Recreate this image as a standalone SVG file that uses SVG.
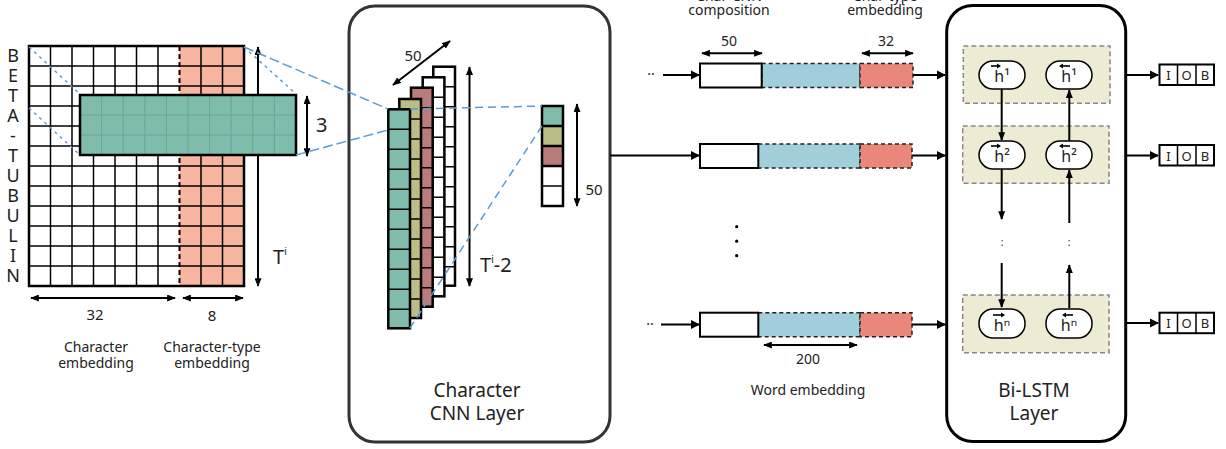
<svg xmlns="http://www.w3.org/2000/svg" xmlns:xlink="http://www.w3.org/1999/xlink" width="1226" height="449" viewBox="0 0 1226 449">
<style>
text{font-family:"Noto Sans","Open Sans","Liberation Sans",sans-serif;fill:#222}
.t14{font-size:14px}
.t15{font-size:15px}
.t18{font-size:18px}
.t20{font-size:20px}
.big{font-size:19px;text-anchor:middle}
.mid{text-anchor:middle}
.thin{stroke:#000;stroke-width:1.5;fill:none}
.out{stroke:#000;stroke-width:2.5}
.arr{stroke:#000;stroke-width:2;fill:none}
.blue{stroke:#5B9BD5;stroke-width:1.5;fill:none}
.dash{stroke-dasharray:8 5}
.sdash{stroke-dasharray:3 4}
.ldash{stroke-dasharray:10 4}
.box{fill:#fff;stroke:#333;stroke-width:3}
.bbox{fill:#fff;stroke:#000;stroke-width:3}
.ybox{fill:#EEEBD4;stroke:#888;stroke-width:1.5;stroke-dasharray:5 3}
.pill{fill:#fff;stroke:#000;stroke-width:1.5}
.wseg{fill:#fff;stroke:#000;stroke-width:2}
.bseg{fill:#A0CEDB;stroke:#222;stroke-width:1.5;stroke-dasharray:4 3}
.rseg{fill:#E8877A;stroke:#222;stroke-width:1.5;stroke-dasharray:4 3}
</style>
<defs>
<marker id="ah" viewBox="0 0 10 8" refX="9" refY="4" markerWidth="9" markerHeight="7" markerUnits="userSpaceOnUse" orient="auto-start-reverse">
<path d="M0,0 L10,4 L0,8 z" fill="#000"/>
</marker>
<marker id="ahb" viewBox="0 0 10 10" refX="9" refY="5" markerWidth="9" markerHeight="11" markerUnits="userSpaceOnUse" orient="auto">
<path d="M0,0 L10,5 L0,10 z" fill="#000"/>
</marker>
<g id="cells">
<path d="M0,20H21.7M0,40H21.7M0,60H21.7M0,80H21.7M0,100H21.7M0,120H21.7M0,140H21.7M0,160H21.7M0,180H21.7M0,200H21.7" stroke="#000" stroke-width="1.5"/>
</g>
</defs>

<!-- Character embedding matrix -->
<g id="char-matrix">
<rect x="29" y="46" width="215" height="240" fill="#fff"/>
<rect x="179.5" y="46" width="64.5" height="240" fill="#F7B49E"/>
<path class="thin" d="M50.5,46V286M72,46V286M93.5,46V286M115,46V286M136.5,46V286M158,46V286M201,46V286M222.5,46V286"/>
<path class="thin" d="M29,66H244M29,86H244M29,106H244M29,126H244M29,146H244M29,166H244M29,186H244M29,206H244M29,226H244M29,246H244M29,266H244"/>
<path d="M179.5,46V286" stroke="#000" stroke-width="2" stroke-dasharray="5 3"/>
<rect x="29" y="46" width="215" height="240" fill="none" class="out"/>
</g>

<g id="word-letters" class="t18">
<text x="13" y="62" class="mid">B</text>
<text x="13" y="82" class="mid">E</text>
<text x="13" y="102" class="mid">T</text>
<text x="13" y="122" class="mid">A</text>
<text x="13" y="142" class="mid">-</text>
<text x="13" y="162" class="mid">T</text>
<text x="13" y="182" class="mid">U</text>
<text x="13" y="202" class="mid">B</text>
<text x="13" y="222" class="mid">U</text>
<text x="13" y="242" class="mid">L</text>
<text x="13" y="262" class="mid">I</text>
<text x="13" y="282" class="mid">N</text>
</g>

<g id="length-arrow">
<line x1="258" y1="47" x2="258" y2="286" class="arr" marker-start="url(#ah)" marker-end="url(#ah)"/>
<text x="273" y="264" class="t20">T<tspan font-size="10" dy="-9">i</tspan></text>
</g>

<!-- dashed projection lines on matrix -->
<g id="proj-lines">
<path class="blue sdash" d="M29,47L80,94M29,108L80,155M244,47L296,94"/>
</g>

<!-- convolution window -->
<g id="window">
<rect x="80" y="95" width="216" height="60" fill="#7FBCAB"/>
<path d="M101.6,95V155M123.2,95V155M144.8,95V155M166.4,95V155M188,95V155M209.6,95V155M231.2,95V155M252.8,95V155M274.4,95V155M80,115H296M80,135H296" stroke="#68A594" stroke-width="1"/>
<rect x="80" y="95" width="216" height="60" fill="none" class="out"/>
</g>

<g id="matrix-dims">
<line x1="307" y1="96" x2="307" y2="156" class="arr" stroke-width="2.5" marker-start="url(#ah)" marker-end="url(#ah)"/>
<text x="316" y="132" class="t20">3</text>
<line x1="31" y1="298" x2="175" y2="298" class="arr" marker-start="url(#ah)" marker-end="url(#ah)"/>
<line x1="183" y1="298" x2="243" y2="298" class="arr" marker-start="url(#ah)" marker-end="url(#ah)"/>
<text x="95" y="320" class="t15 mid">32</text>
<text x="212" y="321" class="t15 mid">8</text>
<text x="96" y="352" class="t14 mid">Character</text>
<text x="96" y="368" class="t14 mid">embedding</text>
<text x="212" y="352" class="t14 mid">Character-type</text>
<text x="212" y="368" class="t14 mid">embedding</text>
</g>

<!-- Character CNN layer -->
<g id="cnn-layer">
<rect x="349" y="6" width="261" height="436" rx="26" class="box"/>
<text x="477" y="397" class="big">Character</text>
<text x="477" y="420" class="big">CNN Layer</text>
</g>

<g id="feature-maps">
<rect x="433.3" y="66.7" width="21.7" height="219" fill="#fff" class="out"/>
<use xlink:href="#cells" x="433.3" y="66.7"/>
<rect x="422.7" y="77.3" width="21.7" height="219" fill="#fff" class="out"/>
<use xlink:href="#cells" x="422.7" y="77.3"/>
<rect x="411" y="87.7" width="21.7" height="219" fill="#B97B7B" class="out"/>
<use xlink:href="#cells" x="411" y="87.7"/>
<rect x="399.3" y="99" width="21.7" height="219" fill="#BCBC85" class="out"/>
<use xlink:href="#cells" x="399.3" y="99"/>
<rect x="388.3" y="109.3" width="21.7" height="219" fill="#7FBCAB" class="out"/>
<use xlink:href="#cells" x="388.3" y="109.3"/>
</g>

<g id="pooled-vector">
<rect x="542" y="106" width="21" height="20" fill="#7FBCAB"/>
<rect x="542" y="126" width="21" height="20" fill="#BCBC85"/>
<rect x="542" y="146" width="21" height="20" fill="#B97B7B"/>
<rect x="542" y="166" width="21" height="40" fill="#fff"/>
<path d="M542,126H563M542,146H563M542,166H563" stroke="#000" stroke-width="2.5"/>
<path d="M542,186H563" stroke="#000" stroke-width="1.5"/>
<rect x="542" y="106" width="21" height="100" fill="none" class="out"/>
</g>

<g id="cnn-dims">
<line x1="393" y1="85" x2="450" y2="41" class="arr" stroke-width="2.5" marker-start="url(#ah)" marker-end="url(#ah)"/>
<text x="413" y="61" class="t15 mid">50</text>
<line x1="469.5" y1="67" x2="469.5" y2="286" class="arr" stroke-width="2.5" marker-start="url(#ah)" marker-end="url(#ah)"/>
<text x="480" y="272" class="t20">T<tspan font-size="10" dy="-9">i</tspan><tspan dy="9">-2</tspan></text>
<line x1="577" y1="104" x2="577" y2="206" class="arr" marker-start="url(#ah)" marker-end="url(#ah)"/>
<text x="594" y="195" class="t15 mid">50</text>
</g>

<!-- word representation rows -->
<g id="top-labels" class="t14">
<text x="729" y="1" class="mid">Char-CNN</text>
<text x="729" y="15" class="mid">composition</text>
<text x="885" y="1" class="mid">Char-type</text>
<text x="885" y="15" class="mid">embedding</text>
<line x1="702" y1="53.3" x2="762" y2="53.3" class="arr" stroke-width="1.8" marker-start="url(#ah)" marker-end="url(#ah)"/>
<text x="729" y="46" class="mid">50</text>
<line x1="862" y1="53.3" x2="913" y2="53.3" class="arr" stroke-width="1.8" marker-start="url(#ah)" marker-end="url(#ah)"/>
<text x="886" y="46" class="mid">32</text>
</g>

<g id="row-1">
<text x="651" y="79" class="t14 mid">··</text>
<rect x="761.7" y="63.5" width="98.3" height="24" class="bseg"/>
<rect x="860" y="63.5" width="53" height="24" class="rseg"/>
<rect x="700" y="63.5" width="61.7" height="24" class="wseg"/>
</g>
<g id="row-2">
<rect x="758.3" y="144" width="101.7" height="24" class="bseg"/>
<rect x="860" y="144" width="52" height="24" class="rseg"/>
<rect x="700" y="144" width="58.3" height="24" class="wseg"/>
</g>
<g id="row-dots">
<circle cx="736.7" cy="226.7" r="1.6" fill="#000"/>
<circle cx="736.7" cy="241.2" r="1.6" fill="#000"/>
<circle cx="736.7" cy="255.7" r="1.6" fill="#000"/>
</g>
<g id="row-n">
<text x="650" y="328.5" class="t14 mid">··</text>
<rect x="758.3" y="312.7" width="101.7" height="24" class="bseg"/>
<rect x="860" y="312.7" width="52" height="24" class="rseg"/>
<rect x="700" y="312.7" width="58.3" height="24" class="wseg"/>
<line x1="764" y1="345" x2="857" y2="345" class="arr" stroke-width="1.8" marker-start="url(#ah)" marker-end="url(#ah)"/>
<text x="808" y="364" class="t14 mid">200</text>
<text x="808" y="395" class="t14 mid">Word embedding</text>
</g>

<!-- Bi-LSTM -->
<g id="bilstm-layer">
<rect x="946.7" y="5.5" width="179" height="436" rx="26" class="bbox"/>
<text x="1034" y="397" class="big">Bi-LSTM</text>
<text x="1034" y="420" class="big">Layer</text>
</g>

<g id="lstm-step-1">
<rect x="963.3" y="46" width="146.7" height="57.3" class="ybox"/>
<rect x="979" y="61" width="46" height="28" rx="14" class="pill"/>
<rect x="1046" y="61" width="46" height="28" rx="14" class="pill"/>
<text x="1002" y="82" font-size="16" class="mid">h¹</text>
<text x="1069" y="82" font-size="16" class="mid">h¹</text>
<path d="M991,66H1000" stroke="#000" stroke-width="1.6"/><path d="M1001,66l-4,-2.5v5z" fill="#000"/>
<path d="M1061,66H1070" stroke="#000" stroke-width="1.6"/><path d="M1059,66l4,-2.5v5z" fill="#000"/>
</g>
<g id="lstm-step-2">
<rect x="962.7" y="126" width="146.3" height="57.3" class="ybox"/>
<rect x="979" y="141" width="46" height="28" rx="14" class="pill"/>
<rect x="1046" y="141" width="46" height="28" rx="14" class="pill"/>
<text x="1002" y="162" font-size="16" class="mid">h²</text>
<text x="1069" y="162" font-size="16" class="mid">h²</text>
<path d="M991,146H1000" stroke="#000" stroke-width="1.6"/><path d="M1001,146l-4,-2.5v5z" fill="#000"/>
<path d="M1061,146H1070" stroke="#000" stroke-width="1.6"/><path d="M1059,146l4,-2.5v5z" fill="#000"/>
</g>
<g id="lstm-ellipsis">
<text x="1002" y="246" font-size="10" class="mid">:</text>
<text x="1069" y="246" font-size="10" class="mid">:</text>
</g>
<g id="lstm-step-n">
<rect x="962.7" y="295" width="146.3" height="57.7" class="ybox"/>
<rect x="979" y="309" width="46" height="29" rx="14" class="pill"/>
<rect x="1046" y="309" width="46" height="29" rx="14" class="pill"/>
<text x="1002" y="331" font-size="16" class="mid">hⁿ</text>
<text x="1069" y="331" font-size="16" class="mid">hⁿ</text>
<path d="M993,315H1004" stroke="#000" stroke-width="1.6"/><path d="M1005,315l-4,-2.5v5z" fill="#000"/>
<path d="M1064,315H1073" stroke="#000" stroke-width="1.6"/><path d="M1062,315l4,-2.5v5z" fill="#000"/>
</g>

<!-- IOB outputs -->
<g id="iob-1">
<rect x="1159.5" y="64.5" width="54.5" height="20.5" fill="#fff" stroke="#000" stroke-width="2"/>
<path d="M1177.5,64.5V85M1196,64.5V85" stroke="#000" stroke-width="1.5"/>
<text x="1168.5" y="80" font-size="13" class="mid">I</text>
<text x="1186.7" y="80" font-size="13" class="mid">O</text>
<text x="1205" y="80" font-size="13" class="mid">B</text>
</g>
<g id="iob-2">
<rect x="1159.5" y="145" width="54.5" height="20.5" fill="#fff" stroke="#000" stroke-width="2"/>
<path d="M1177.5,145V165.5M1196,145V165.5" stroke="#000" stroke-width="1.5"/>
<text x="1168.5" y="160.5" font-size="13" class="mid">I</text>
<text x="1186.7" y="160.5" font-size="13" class="mid">O</text>
<text x="1205" y="160.5" font-size="13" class="mid">B</text>
</g>
<g id="iob-n">
<rect x="1159.5" y="312.7" width="54.5" height="20.5" fill="#fff" stroke="#000" stroke-width="2"/>
<path d="M1177.5,312.7V333.2M1196,312.7V333.2" stroke="#000" stroke-width="1.5"/>
<text x="1168.5" y="328.2" font-size="13" class="mid">I</text>
<text x="1186.7" y="328.2" font-size="13" class="mid">O</text>
<text x="1205" y="328.2" font-size="13" class="mid">B</text>
</g>

<!-- connectors -->
<g id="connectors">
<path class="blue ldash" d="M244,47L388,109M296,155L388,130"/>
<path class="blue dash" d="M410,109L542,106M542,126L410,328"/>
<line x1="610" y1="155.5" x2="699" y2="155.5" class="arr" marker-end="url(#ahb)"/>
<line x1="663" y1="75" x2="699" y2="75" class="arr" marker-end="url(#ahb)"/>
<line x1="661" y1="324.5" x2="699" y2="324.5" class="arr" marker-end="url(#ahb)"/>
<line x1="913" y1="75" x2="945" y2="75" class="arr" marker-end="url(#ahb)"/>
<line x1="912" y1="155.5" x2="945" y2="155.5" class="arr" marker-end="url(#ahb)"/>
<line x1="912" y1="324.5" x2="945" y2="324.5" class="arr" marker-end="url(#ahb)"/>
<line x1="1126" y1="75" x2="1158" y2="75" class="arr" marker-end="url(#ahb)"/>
<line x1="1126" y1="155.5" x2="1158" y2="155.5" class="arr" marker-end="url(#ahb)"/>
<line x1="1126" y1="323" x2="1158" y2="323" class="arr" marker-end="url(#ahb)"/>
<line x1="1001.7" y1="89" x2="1001.7" y2="140" class="arr" marker-end="url(#ah)"/>
<line x1="1069.3" y1="141" x2="1069.3" y2="90" class="arr" marker-end="url(#ah)"/>
<line x1="1001.7" y1="169" x2="1001.7" y2="219" class="arr" marker-end="url(#ah)"/>
<line x1="1069.3" y1="223" x2="1069.3" y2="170" class="arr" marker-end="url(#ah)"/>
<line x1="1001.7" y1="263" x2="1001.7" y2="307" class="arr" marker-end="url(#ah)"/>
<line x1="1069.3" y1="308" x2="1069.3" y2="265" class="arr" marker-end="url(#ah)"/>
</g>
</svg>
